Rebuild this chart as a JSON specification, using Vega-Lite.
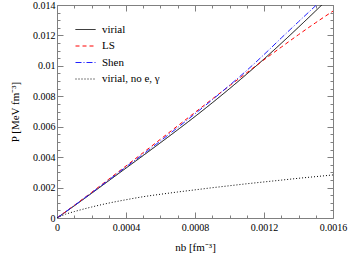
{
  "$schema": "https://vega.github.io/schema/vega-lite/v6.json",
  "width": 276,
  "height": 213,
  "autosize": "none",
  "padding": {"left": 57, "top": 5, "right": 17, "bottom": 39},
  "config": {
    "view": {"stroke": "#808080", "strokeWidth": 1},
    "font": "Liberation Serif",
    "axis": {"grid": false, "domain": false, "labelFont": "Liberation Serif", "titleFont": "Liberation Serif", "labelFontSize": 10, "titleFontSize": 11, "titleFontWeight": "normal", "labelColor": "black", "titleColor": "black", "tickColor": "#808080"}
  },
  "data": {"values": [
    {"n": 0, "P": 0, "s": "virial"},
    {"n": 0.0001, "P": 0.0008, "s": "virial"},
    {"n": 0.0002, "P": 0.00162, "s": "virial"},
    {"n": 0.0003, "P": 0.00245, "s": "virial"},
    {"n": 0.0004, "P": 0.00328, "s": "virial"},
    {"n": 0.0005, "P": 0.00411, "s": "virial"},
    {"n": 0.0006, "P": 0.00495, "s": "virial"},
    {"n": 0.0007, "P": 0.0058, "s": "virial"},
    {"n": 0.0008, "P": 0.00667, "s": "virial"},
    {"n": 0.0009, "P": 0.00757, "s": "virial"},
    {"n": 0.001, "P": 0.0085, "s": "virial"},
    {"n": 0.0011, "P": 0.00946, "s": "virial"},
    {"n": 0.0012, "P": 0.01045, "s": "virial"},
    {"n": 0.0013, "P": 0.01148, "s": "virial"},
    {"n": 0.0014, "P": 0.01254, "s": "virial"},
    {"n": 0.0015, "P": 0.01362, "s": "virial"},
    {"n": 0.0016, "P": 0.01472, "s": "virial"},
    {"n": 0, "P": 0, "s": "LS"},
    {"n": 0.0001, "P": 0.00083, "s": "LS"},
    {"n": 0.0002, "P": 0.00168, "s": "LS"},
    {"n": 0.0003, "P": 0.00255, "s": "LS"},
    {"n": 0.0004, "P": 0.00342, "s": "LS"},
    {"n": 0.0005, "P": 0.0043, "s": "LS"},
    {"n": 0.0006, "P": 0.00518, "s": "LS"},
    {"n": 0.0007, "P": 0.00606, "s": "LS"},
    {"n": 0.0008, "P": 0.00694, "s": "LS"},
    {"n": 0.0009, "P": 0.00782, "s": "LS"},
    {"n": 0.001, "P": 0.00869, "s": "LS"},
    {"n": 0.0011, "P": 0.00955, "s": "LS"},
    {"n": 0.0012, "P": 0.0104, "s": "LS"},
    {"n": 0.0013, "P": 0.01123, "s": "LS"},
    {"n": 0.0014, "P": 0.01205, "s": "LS"},
    {"n": 0.0015, "P": 0.01284, "s": "LS"},
    {"n": 0.0016, "P": 0.0136, "s": "LS"},
    {"n": 0, "P": 0, "s": "Shen"},
    {"n": 0.0001, "P": 0.00082, "s": "Shen"},
    {"n": 0.0002, "P": 0.00165, "s": "Shen"},
    {"n": 0.0003, "P": 0.0025, "s": "Shen"},
    {"n": 0.0004, "P": 0.00336, "s": "Shen"},
    {"n": 0.0005, "P": 0.0042, "s": "Shen"},
    {"n": 0.0006, "P": 0.00507, "s": "Shen"},
    {"n": 0.0007, "P": 0.00595, "s": "Shen"},
    {"n": 0.0008, "P": 0.00685, "s": "Shen"},
    {"n": 0.0009, "P": 0.00777, "s": "Shen"},
    {"n": 0.001, "P": 0.00872, "s": "Shen"},
    {"n": 0.0011, "P": 0.0097, "s": "Shen"},
    {"n": 0.0012, "P": 0.01074, "s": "Shen"},
    {"n": 0.0013, "P": 0.01183, "s": "Shen"},
    {"n": 0.0014, "P": 0.0129, "s": "Shen"},
    {"n": 0.0015, "P": 0.01396, "s": "Shen"},
    {"n": 0.0016, "P": 0.015, "s": "Shen"},
    {"n": 0, "P": 0, "s": "virial, no e, γ"},
    {"n": 0.00005, "P": 0.00025, "s": "virial, no e, γ"},
    {"n": 0.0001, "P": 0.00042, "s": "virial, no e, γ"},
    {"n": 0.0002, "P": 0.00072, "s": "virial, no e, γ"},
    {"n": 0.0003, "P": 0.00098, "s": "virial, no e, γ"},
    {"n": 0.0004, "P": 0.0012, "s": "virial, no e, γ"},
    {"n": 0.0005, "P": 0.0014, "s": "virial, no e, γ"},
    {"n": 0.0006, "P": 0.00156, "s": "virial, no e, γ"},
    {"n": 0.0007, "P": 0.00171, "s": "virial, no e, γ"},
    {"n": 0.0008, "P": 0.00185, "s": "virial, no e, γ"},
    {"n": 0.0009, "P": 0.00199, "s": "virial, no e, γ"},
    {"n": 0.001, "P": 0.00212, "s": "virial, no e, γ"},
    {"n": 0.0011, "P": 0.00225, "s": "virial, no e, γ"},
    {"n": 0.0012, "P": 0.00237, "s": "virial, no e, γ"},
    {"n": 0.0013, "P": 0.00249, "s": "virial, no e, γ"},
    {"n": 0.0014, "P": 0.00261, "s": "virial, no e, γ"},
    {"n": 0.0015, "P": 0.00272, "s": "virial, no e, γ"},
    {"n": 0.0016, "P": 0.00283, "s": "virial, no e, γ"}
  ]},
  "resolve": {"axis": {"x": "independent", "y": "independent"}},
  "layer": [
    {
      "mark": {"type": "line", "strokeWidth": 1, "clip": true, "interpolate": "monotone"},
      "encoding": {
        "x": {"field": "n", "type": "quantitative", "scale": {"domain": [0, 0.0016], "nice": false, "zero": false},
              "axis": {"orient": "bottom", "values": [0, 0.0004, 0.0008, 0.0012, 0.0016], "format": "~g", "ticks": false, "labelPadding": 4, "title": "nb [fm⁻³]", "titlePadding": 9, "labelFlush": false}},
        "y": {"field": "P", "type": "quantitative", "scale": {"domain": [0, 0.014], "nice": false, "zero": false},
              "axis": {"orient": "left", "values": [0, 0.002, 0.004, 0.006, 0.008, 0.01, 0.012, 0.014], "format": "~g", "ticks": false, "labelPadding": 2, "title": "P [MeV fm⁻³]", "titlePadding": 12, "labelFlush": false}},
        "color": {"field": "s", "type": "nominal", "scale": {"domain": ["virial", "LS", "Shen", "virial, no e, γ"], "range": ["#000000", "#ff0000", "#2020ff", "#000000"]},
                  "legend": {"title": null, "orient": "none", "legendX": 18, "legendY": 14, "symbolType": "stroke", "symbolSize": 400, "symbolStrokeWidth": 1, "labelFont": "Liberation Serif", "labelFontSize": 11, "labelColor": "black", "labelOffset": 6, "rowPadding": 0.5}},
        "strokeDash": {"field": "s", "type": "nominal", "scale": {"domain": ["virial", "LS", "Shen", "virial, no e, γ"], "range": [[1, 0], [4, 3], [6, 2, 1, 2], [1, 2]]},
                  "legend": {"title": null, "orient": "none", "legendX": 18, "legendY": 14, "symbolType": "stroke", "symbolSize": 400, "symbolStrokeWidth": 1, "labelFont": "Liberation Serif", "labelFontSize": 11, "labelColor": "black", "labelOffset": 6, "rowPadding": 0.5}}
      }
    },
    {
      "mark": {"type": "line", "opacity": 0},
      "encoding": {
        "x": {"field": "n", "type": "quantitative", "axis": {"orient": "bottom", "values": [0, 0.0004, 0.0008, 0.0012, 0.0016], "labels": false, "tickSize": -6, "title": null}},
        "y": {"field": "P", "type": "quantitative", "axis": {"orient": "left", "values": [0, 0.002, 0.004, 0.006, 0.008, 0.01, 0.012, 0.014], "labels": false, "tickSize": -6, "title": null}},
        "detail": {"field": "s"}
      }
    },
    {
      "mark": {"type": "line", "opacity": 0},
      "encoding": {
        "x": {"field": "n", "type": "quantitative", "axis": {"orient": "bottom", "values": [0.0001, 0.0002, 0.0003, 0.0005, 0.0006, 0.0007, 0.0009, 0.001, 0.0011, 0.0013, 0.0014, 0.0015], "labels": false, "tickSize": -3, "title": null}},
        "y": {"field": "P", "type": "quantitative", "axis": {"orient": "left", "values": [0.0005, 0.001, 0.0015, 0.0025, 0.003, 0.0035, 0.0045, 0.005, 0.0055, 0.0065, 0.007, 0.0075, 0.0085, 0.009, 0.0095, 0.0105, 0.011, 0.0115, 0.0125, 0.013, 0.0135], "labels": false, "tickSize": -3, "title": null}},
        "detail": {"field": "s"}
      }
    },
    {
      "mark": {"type": "line", "opacity": 0},
      "encoding": {
        "x": {"field": "n", "type": "quantitative", "axis": {"orient": "top", "values": [0, 0.0004, 0.0008, 0.0012, 0.0016], "labels": false, "tickSize": -6, "title": null}},
        "y": {"field": "P", "type": "quantitative", "axis": {"orient": "right", "values": [0, 0.002, 0.004, 0.006, 0.008, 0.01, 0.012, 0.014], "labels": false, "tickSize": -6, "title": null}},
        "detail": {"field": "s"}
      }
    },
    {
      "mark": {"type": "line", "opacity": 0},
      "encoding": {
        "x": {"field": "n", "type": "quantitative", "axis": {"orient": "top", "values": [0.0001, 0.0002, 0.0003, 0.0005, 0.0006, 0.0007, 0.0009, 0.001, 0.0011, 0.0013, 0.0014, 0.0015], "labels": false, "tickSize": -3, "title": null}},
        "y": {"field": "P", "type": "quantitative", "axis": {"orient": "right", "values": [0.0005, 0.001, 0.0015, 0.0025, 0.003, 0.0035, 0.0045, 0.005, 0.0055, 0.0065, 0.007, 0.0075, 0.0085, 0.009, 0.0095, 0.0105, 0.011, 0.0115, 0.0125, 0.013, 0.0135], "labels": false, "tickSize": -3, "title": null}},
        "detail": {"field": "s"}
      }
    }
  ]
}
